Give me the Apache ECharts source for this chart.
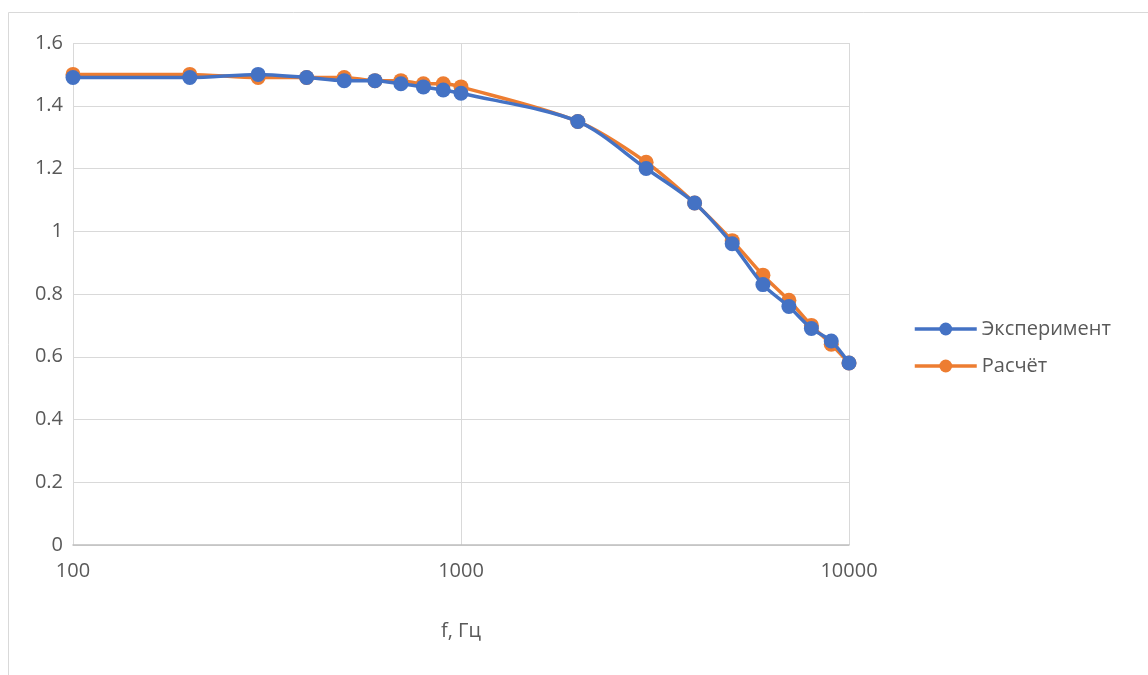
<!DOCTYPE html>
<html><head><meta charset="utf-8">
<script src="https://cdn.jsdelivr.net/npm/echarts@6/dist/echarts.min.js"></script>
<style>html,body{margin:0;padding:0;background:#fff}#c{width:1148px;height:675px}</style>
</head><body><div id="c"></div>
<script>
const freqs = [100,200,300,400,500,600,700,800,900,1000,2000,3000,4000,5000,6000,7000,8000,9000,10000];
const experiment = [1.49,1.49,1.50,1.49,1.48,1.48,1.47,1.46,1.45,1.44,1.35,1.20,1.09,0.96,0.83,0.76,0.69,0.65,0.58];
const calc = [1.50,1.50,1.49,1.49,1.49,1.48,1.48,1.47,1.47,1.46,1.35,1.22,1.09,0.97,0.86,0.78,0.70,0.64,0.58];
const seriesNames = ['Эксперимент','Расчёт'];
const xAxisName = 'f, Гц';

const font = '"Open Sans", "Noto Sans", sans-serif';
const chart = echarts.init(document.getElementById('c'), null, {renderer:'canvas'});
const pair = (xs, ys) => xs.map((x,i)=>[x, ys[i]]);
chart.setOption({
  animation:false,
  textStyle:{fontFamily:font},
  graphic:[{type:'rect', shape:{x:8.5,y:12.5,width:1150,height:700}, style:{fill:'none',stroke:'#d9d9d9',lineWidth:1}, silent:true}],
  grid:{left:73,right:299,top:43,bottom:130,containLabel:false},
  legend:{orient:'vertical', left:908, top:314, itemGap:17, itemWidth:62, itemHeight:16,
    lineStyle:{width:3.5},
    textStyle:{fontSize:20,color:'#595959',fontFamily:font},
    data:seriesNames},
  xAxis:{type:'log', logBase:10, min:100, max:10000,
    name:xAxisName, nameLocation:'middle', nameGap:76,
    nameTextStyle:{fontSize:20,color:'#595959',fontFamily:font},
    axisLine:{show:true,lineStyle:{color:'#bfbfbf',width:1.5}},
    axisTick:{show:false},
    axisLabel:{fontSize:20,color:'#595959',margin:16,fontFamily:font,formatter:v=>String(Math.round(v))},
    splitLine:{show:true,lineStyle:{color:'#d9d9d9',width:1}},
    minorTick:{show:false}},
  yAxis:{type:'value', min:0, max:1.6, interval:0.2,
    axisLine:{show:false}, axisTick:{show:false},
    axisLabel:{fontSize:20,color:'#595959',margin:10,fontFamily:font,formatter:v=>String(+v.toFixed(1))},
    splitLine:{show:true,lineStyle:{color:'#d9d9d9',width:1}}},
  series:[
    {name:seriesNames[1], type:'line', data:pair(freqs,calc), smooth:0.3, z:2,
     symbol:'circle', symbolSize:15, lineStyle:{color:'#ed7d31',width:3.5}, itemStyle:{color:'#ed7d31'}},
    {name:seriesNames[0], type:'line', data:pair(freqs,experiment), smooth:0.3, z:3,
     symbol:'circle', symbolSize:15, lineStyle:{color:'#4472c4',width:3.5}, itemStyle:{color:'#4472c4'}}
  ]
});
</script></body></html>
